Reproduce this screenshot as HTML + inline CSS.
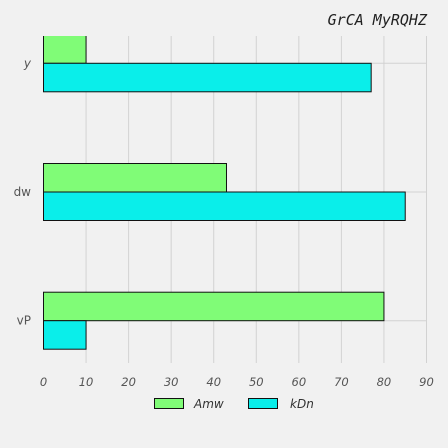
<!DOCTYPE html>
<html><head><meta charset="utf-8"><style>
body{margin:0;background:#f1f1f1;}
svg{display:block;font-family:"DejaVu Sans","Liberation Sans",sans-serif;}
</style></head><body>
<svg id="chart" width="448" height="448">
<rect width="448" height="448" fill="#f1f1f1"/>
<text x="427" y="25" text-anchor="end" font-family="'DejaVu Sans Mono','Liberation Mono',monospace" font-style="italic" font-size="15" fill="#222">GrCA MyRQHZ</text>
<g id="grid"></g><g id="bars"></g><g id="labels"></g>
<g>
<rect x="154.5" y="398.5" width="29" height="10" fill="#80fc77" stroke="#111"/>
<text x="194" y="408" font-size="12" font-style="italic" fill="#333">Amw</text>
<rect x="248.5" y="398.5" width="29" height="10" fill="#0aeeea" stroke="#111"/>
<text x="290" y="408" font-size="12" font-style="italic" fill="#333">kDn</text>
</g>
</svg>
<script>
const categories=["vP","dw","y"];
const amw=[80,43,10];
const kdn=[10,85,77];
const ticks=[0,10,20,30,40,50,60,70,80,90];
const ns="http://www.w3.org/2000/svg";
const X0=43.5,X1=426.5,TOP=36,BOT=363;
const xs=v=>X0+(X1-X0)*v/90;
const ys=i=>320.7-i*128.7;
const BH=28.5;
function mk(t,a,p){const e=document.createElementNS(ns,t);for(const k in a)e.setAttribute(k,a[k]);document.getElementById(p).appendChild(e);return e;}
ticks.forEach((t,i)=>{
 if(t>0){const l=mk("line",{x1:xs(t),x2:xs(t),y1:TOP,y2:BOT,stroke:"#d2d2d2","stroke-width":1},"grid");
 
 }
 const tx=mk("text",{x:xs(t),y:386,"text-anchor":"middle","font-size":11.5,"font-style":"italic",fill:"#555"},"labels");
 tx.textContent=t;
 
 
});
const clip=document.createElementNS(ns,"clipPath");clip.setAttribute("id","pc");document.getElementById("bars").appendChild(clip);
const cr=document.createElementNS(ns,"rect");cr.setAttribute("x",0);cr.setAttribute("y",TOP);cr.setAttribute("width",448);cr.setAttribute("height",BOT-TOP);clip.appendChild(cr);
categories.forEach((c,i)=>{
 const g=mk("line",{x1:X0,x2:X1,y1:ys(i),y2:ys(i),stroke:"#d2d2d2","stroke-width":1},"grid");
 
 
 const a=mk("rect",{x:X0,y:ys(i)-BH,width:xs(amw[i])-X0,height:BH,fill:"#80fc77",stroke:"#111","stroke-width":1,"clip-path":"url(#pc)"},"bars");
 
 
 const k=mk("rect",{x:X0,y:ys(i),width:xs(kdn[i])-X0,height:BH,fill:"#0aeeea",stroke:"#111","stroke-width":1,"clip-path":"url(#pc)"},"bars");
 
 
 const t=mk("text",{x:31,y:ys(i)+4,"text-anchor":"end","font-size":12,fill:"#555"},"labels");
 if(c==="y")t.setAttribute("font-style","italic");
 t.textContent=c;
 
 
});
</script>
</body></html>
